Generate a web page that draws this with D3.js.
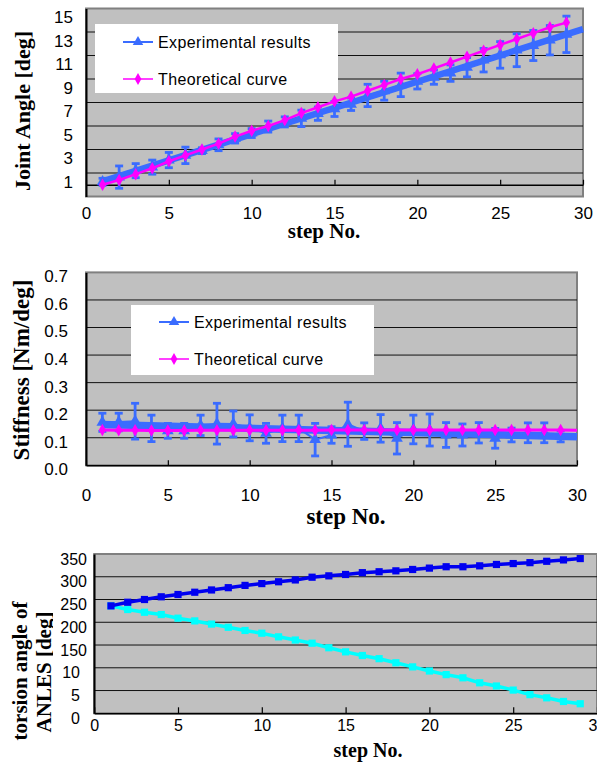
<!DOCTYPE html>
<meta charset='utf-8'>
<html>

<head>
    <title>step response charts</title>
    <script src="https://cdn.jsdelivr.net/npm/d3@7"></script>
    <style>
        body {
            padding: 0;
            margin: 0;
            background: #fff;
        }

        .title {
            font-family: "Liberation Serif", "Times New Roman", serif;
            font-weight: bold;
            fill: #000;
        }

        .legend-text {
            font-family: "Liberation Sans", Arial, sans-serif;
            font-size: 16px;
            letter-spacing: 0.4px;
            fill: #000;
        }
    </style>
</head>

<body>
    <svg id="chart" width="597" height="763"></svg>

    <script>
        // ---- data ----
        var steps = [1, 2, 3, 4, 5, 6, 7, 8, 9, 10, 11, 12, 13, 14, 15, 16, 17, 18, 19, 20, 21, 22, 23, 24, 25, 26, 27, 28, 29];
        var stepTicks = [0, 5, 10, 15, 20, 25, 30];

        // joint angle [deg]
        var angleExp = [1.25, 1.65, 2.2, 2.5, 3.1, 3.5, 3.9, 4.4, 4.95, 5.4, 5.95, 6.35, 6.65, 7.05, 7.45, 7.85, 8.6, 9.0, 9.5, 9.8, 10.15, 10.5, 11.0, 11.6, 12.05, 12.45, 12.85, 13.3, 13.8];
        var angleExpErr = [0.3, 0.95, 0.6, 0.6, 0.65, 0.7, 0.25, 0.5, 0.4, 0.38, 0.47, 0.43, 0.7, 0.57, 0.64, 0.53, 0.95, 0.8, 1.0, 0.65, 0.6, 0.7, 0.82, 1.0, 1.13, 1.4, 1.28, 1.25, 1.55];
        var angleTheory = [1.0, 1.4, 1.9, 2.4, 3.0, 3.5, 4.0, 4.5, 5.1, 5.6, 6.0, 6.5, 7.1, 7.6, 8.1, 8.5, 9.0, 9.5, 10.0, 10.4, 10.9, 11.4, 11.9, 12.4, 12.9, 13.4, 13.9, 14.4, 14.8];
        var angleTicks = [1, 3, 5, 7, 9, 11, 13, 15];
        var angleGrid = [2, 4, 6, 8, 10, 12, 14];

        // stiffness [Nm/deg]
        var stiffExp = [0.156, 0.157, 0.16, 0.134, 0.125, 0.125, 0.145, 0.151, 0.15, 0.136, 0.116, 0.134, 0.134, 0.093, 0.11, 0.149, 0.124, 0.134, 0.098, 0.13, 0.128, 0.11, 0.11, 0.118, 0.098, 0.11, 0.118, 0.118, 0.105];
        var stiffExpErr = [0.033, 0.032, 0.065, 0.048, 0.027, 0.027, 0.037, 0.074, 0.047, 0.047, 0.036, 0.048, 0.048, 0.059, 0.03, 0.08, 0.03, 0.05, 0.057, 0.052, 0.058, 0.045, 0.04, 0.037, 0.036, 0.025, 0.036, 0.036, 0.02];
        var stiffTheorySteps = [1, 2, 3, 4, 5, 6, 7, 8, 9, 10, 11, 12, 13, 14, 15, 16, 17, 18, 19, 20, 21, 22, 23, 24, 25, 26, 27, 28, 29, 30];
        var stiffTheory = [0.128, 0.127, 0.127, 0.126, 0.126, 0.126, 0.127, 0.127, 0.127, 0.127, 0.127, 0.127, 0.127, 0.127, 0.128, 0.128, 0.128, 0.128, 0.128, 0.128, 0.128, 0.128, 0.128, 0.128, 0.128, 0.128, 0.128, 0.128, 0.128, 0.127];
        var stiffTicks = [0, 0.1, 0.2, 0.3, 0.4, 0.5, 0.6, 0.7];
        var stiffGrid = [0.1, 0.2, 0.3, 0.4, 0.5, 0.6];

        // torsion angle of ANLES [deg]
        var torsionUp = [236, 244, 250, 256, 261, 266, 271, 276, 281, 285, 289, 293, 299, 302, 305, 309, 311, 313, 316, 319, 322, 322, 324, 327, 329, 331, 334, 337, 340];
        var torsionDown = [236, 228, 222, 217, 209, 203, 196, 189, 182, 176, 168, 161, 154, 144, 135, 127, 120, 111, 102, 93, 85, 78, 67, 60, 51, 41, 34, 26, 21];
        var torsionTicks = [0, 50, 100, 150, 200, 250, 300, 350];
        var torsionTickLabels = ["0", "5", "10", "150", "200", "250", "300", "350"];
        var torsionGrid = [50, 100, 150, 200, 250, 300];

        var expColor = '#3a6cff';
        var theoryColor = '#ff00ff';
        var labelFont = '"Liberation Sans", Arial, sans-serif';

        var svg = d3.select('#chart');
        svg.append('rect').attr('width', 597).attr('height', 763).attr('fill', '#fff');

        var frame = function (x, y, grid) {
            var g = svg.append('g');
            g.append('rect')
                .attr('x', x.range()[0])
                .attr('y', y.range()[1])
                .attr('width', x.range()[1] - x.range()[0])
                .attr('height', y.range()[0] - y.range()[1])
                .attr('fill', '#c0c0c0')
                .attr('stroke', '#808080')
                .attr('stroke-width', 2);
            g.selectAll('.grid')
                .data(grid)
                .enter()
                .append('line')
                .attr('x1', x.range()[0])
                .attr('x2', x.range()[1])
                .attr('y1', function (d) { return y(d); })
                .attr('y2', function (d) { return y(d); })
                .attr('stroke', '#111')
                .attr('stroke-width', 1);
            return g;
        }

        var bottomAxis = function (g, x, yPos, pad, size, tickLen) {
            var a = g.append('g')
                .attr('transform', 'translate(0,' + yPos + ')')
                .call(d3.axisBottom(x).tickValues(stepTicks).tickSizeInner(-tickLen).tickSizeOuter(0).tickPadding(pad));
            a.attr('font-family', labelFont).attr('font-size', size);
            a.select('.domain').attr('stroke', '#000').attr('stroke-width', 1.5);
            a.selectAll('.tick line').attr('stroke', '#000').attr('stroke-width', 1.2);
            a.selectAll('.tick text').attr('fill', '#000');
            return a;
        }

        var leftAxis = function (g, y, xPos, ticks, fmt, pad, size, dy) {
            var a = g.append('g')
                .attr('transform', 'translate(' + xPos + ',0)')
                .call(d3.axisLeft(y).tickValues(ticks).tickFormat(fmt).tickSize(0).tickPadding(pad));
            a.attr('font-family', labelFont).attr('font-size', size);
            a.select('.domain').attr('stroke', '#000').attr('stroke-width', 2);
            a.selectAll('.tick text').attr('fill', '#000').attr('y', dy);
            return a;
        }

        var fitLine = function (xs, ys) {
            var mx = d3.mean(xs), my = d3.mean(ys);
            var b = d3.sum(xs, function (d, i) { return (d - mx) * (ys[i] - my); }) /
                d3.sum(xs, function (d) { return (d - mx) * (d - mx); });
            return function (v) { return my + b * (v - mx); };
        }

        var drawExperimental = function (g, x, y, vals, errs, trendWidth) {
            var trend = fitLine(steps, vals);
            g.append('line')
                .attr('x1', x(1)).attr('y1', y(trend(1)))
                .attr('x2', x(30)).attr('y2', y(trend(30)))
                .attr('stroke', expColor)
                .attr('stroke-width', trendWidth);
            g.append('path')
                .datum(vals)
                .attr('fill', 'none')
                .attr('stroke', expColor)
                .attr('stroke-width', 2)
                .attr('d', d3.line().x(function (d, i) { return x(steps[i]); }).y(function (d) { return y(d); }));
            var bars = g.selectAll('.err')
                .data(vals)
                .enter()
                .append('g')
                .attr('stroke', expColor)
                .attr('stroke-width', 2.8);
            bars.append('line')
                .attr('x1', function (d, i) { return x(steps[i]); })
                .attr('x2', function (d, i) { return x(steps[i]); })
                .attr('y1', function (d, i) { return y(d - errs[i]); })
                .attr('y2', function (d, i) { return y(d + errs[i]); });
            [-1, 1].forEach(function (s) {
                bars.append('line')
                    .attr('x1', function (d, i) { return x(steps[i]) - 4; })
                    .attr('x2', function (d, i) { return x(steps[i]) + 4; })
                    .attr('y1', function (d, i) { return y(d + s * errs[i]); })
                    .attr('y2', function (d, i) { return y(d + s * errs[i]); });
            });
            g.selectAll('.tri')
                .data(vals)
                .enter()
                .append('path')
                .attr('d', d3.symbol().type(d3.symbolTriangle).size(60))
                .attr('fill', expColor)
                .attr('transform', function (d, i) { return 'translate(' + x(steps[i]) + ',' + y(d) + ')'; });
        }

        var drawTheory = function (g, x, y, xs, vals, width, markerCount) {
            g.append('path')
                .datum(vals)
                .attr('fill', 'none')
                .attr('stroke', theoryColor)
                .attr('stroke-width', width)
                .attr('d', d3.line().x(function (d, i) { return x(xs[i]); }).y(function (d) { return y(d); }));
            g.selectAll('.dia')
                .data(vals.slice(0, markerCount))
                .enter()
                .append('path')
                .attr('d', d3.symbol().type(d3.symbolDiamond).size(45))
                .attr('fill', theoryColor)
                .attr('transform', function (d, i) { return 'translate(' + x(xs[i]) + ',' + y(d) + ')'; });
        }

        var legend = function (x0, y0, w, h, rowY, lineX) {
            var g = svg.append('g');
            g.append('rect').attr('x', x0).attr('y', y0).attr('width', w).attr('height', h).attr('fill', '#fff');
            var items = [
                { label: 'Experimental results', color: expColor, type: d3.symbolTriangle, size: 48, lw: 2 },
                { label: 'Theoretical curve', color: theoryColor, type: d3.symbolDiamond, size: 40, lw: 1.5 }
            ];
            items.forEach(function (it, i) {
                g.append('line')
                    .attr('x1', lineX).attr('x2', lineX + 30)
                    .attr('y1', rowY[i]).attr('y2', rowY[i])
                    .attr('stroke', it.color).attr('stroke-width', it.lw);
                g.append('path')
                    .attr('d', d3.symbol().type(it.type).size(it.size))
                    .attr('fill', it.color)
                    .attr('transform', 'translate(' + (lineX + 15) + ',' + rowY[i] + ')');
                g.append('text')
                    .attr('class', 'legend-text')
                    .attr('x', lineX + 35)
                    .attr('y', rowY[i])
                    .attr('dy', '0.35em')
                    .text(it.label);
            });
        }

        var title = function (parent, text, x, y, size, rotate) {
            return parent.append('text')
                .attr('class', 'title')
                .attr('text-anchor', 'middle')
                .attr('font-size', size)
                .attr('transform', 'translate(' + x + ',' + y + ')' + (rotate ? ' rotate(-90)' : ''))
                .text(text);
        }

        // ---- chart 1: joint angle ----
        var x1 = d3.scaleLinear().domain([0, 30]).range([86, 583]);
        var y1 = d3.scaleLinear().domain([0, 16]).range([196.5, 8.5]);
        var g1 = frame(x1, y1, angleGrid);
        bottomAxis(g1, x1, y1(1), 22, 17, 5);
        leftAxis(g1, y1, 86, angleTicks, d3.format('d'), 13, 17, -3);
        drawExperimental(g1, x1, y1, angleExp, angleExpErr, 6.5);
        drawTheory(g1, x1, y1, steps, angleTheory, 2.5, 29);
        legend(95, 24, 243, 69, [42, 79], 123);
        title(svg, 'Joint Angle [deg]', 30, 111, 22, true);
        title(svg, 'step No.', 324, 238, 21, false);

        // ---- chart 2: stiffness ----
        var x2 = d3.scaleLinear().domain([0, 30]).range([86, 577]);
        var y2 = d3.scaleLinear().domain([0, 0.7]).range([465.3, 272.4]);
        var g2 = frame(x2, y2, stiffGrid);
        bottomAxis(g2, x2, y2(0), 24, 17, 5);
        leftAxis(g2, y2, 86, stiffTicks, d3.format('.1f'), 18, 17, 4);
        drawExperimental(g2, x2, y2, stiffExp, stiffExpErr, 7.5);
        drawTheory(g2, x2, y2, stiffTheorySteps, stiffTheory, 3, 29);
        legend(131, 305, 243, 70, [322, 359], 159);
        title(svg, 'Stiffness [Nm/deg]', 29, 370, 23, true);
        title(svg, 'step No.', 346, 524, 23, false);

        // ---- chart 3: torsion angle ----
        var x3 = d3.scaleLinear().domain([0, 30]).range([94.2, 597]);
        var y3 = d3.scaleLinear().domain([0, 350]).range([713.3, 554]);
        var g3 = frame(x3, y3, torsionGrid);
        bottomAxis(g3, x3, y3(0), 6, 16, 6);
        var ya3 = leftAxis(g3, y3, 94, torsionTicks, function (d, i) { return torsionTickLabels[i]; }, 7, 16, 5);
        ya3.selectAll('.tick text').attr('x', function (d, i) { return torsionTickLabels[i].length < 3 ? -14 : -7; });

        [{ vals: torsionDown, color: '#00ffff' }, { vals: torsionUp, color: '#0000f0' }].forEach(function (s) {
            g3.append('path')
                .datum(s.vals)
                .attr('fill', 'none')
                .attr('stroke', s.color)
                .attr('stroke-width', 3.5)
                .attr('d', d3.line().x(function (d, i) { return x3(steps[i]); }).y(function (d) { return y3(d); }));
            g3.selectAll('.sq')
                .data(s.vals)
                .enter()
                .append('path')
                .attr('d', d3.symbol().type(d3.symbolSquare).size(52))
                .attr('fill', s.color)
                .attr('transform', function (d, i) { return 'translate(' + x3(steps[i]) + ',' + y3(d) + ')'; });
        });

        svg.append('clipPath').attr('id', 'ttl-clip')
            .append('rect').attr('x', 0).attr('y', 540).attr('width', 53).attr('height', 223);
        title(svg, 'torsion angle of', 27, 671, 21, true);
        var clipped = svg.append('g').attr('clip-path', 'url(#ttl-clip)');
        title(clipped, 'ANLES [deg]', 51, 672, 21, true);
        title(svg, 'step No.', 368, 757, 20, false);
    </script>
</body>

</html>
